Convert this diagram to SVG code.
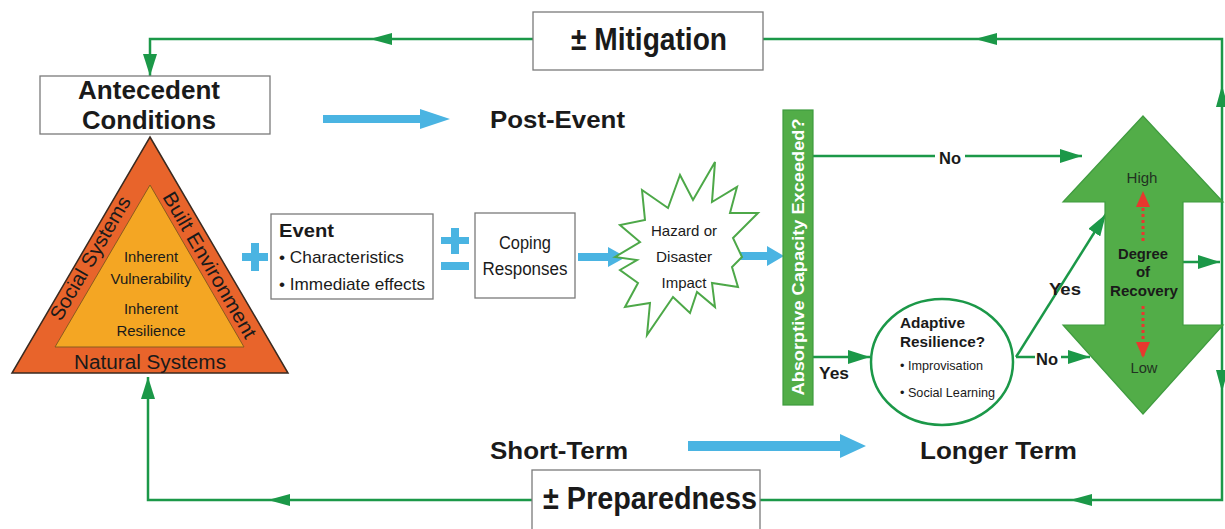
<svg xmlns="http://www.w3.org/2000/svg" width="1225" height="529" viewBox="0 0 1225 529">
  <style>
    .t { font-family: "Liberation Sans", Arial, sans-serif; fill: #1a1a1a; }
    .b { font-weight: bold; }
    .box { fill: #ffffff; stroke: #7a7a7a; stroke-width: 1.3; }
    .ln { fill: none; stroke: #1b9848; stroke-width: 2.5; }
    .hd { fill: #1b9848; }
    .blue { fill: #4ab4e2; }
    .green { fill: #52ad48; stroke: #3f9c3f; stroke-width: 1.2; }
  </style>
  <defs>
    <marker id="ah" markerUnits="userSpaceOnUse" markerWidth="24" markerHeight="14" refX="22" refY="7" orient="auto">
      <path d="M0,0 L22,7 L0,14 Z" fill="#1b9848"/>
    </marker>
    <marker id="rh" markerUnits="userSpaceOnUse" markerWidth="16" markerHeight="20" refX="14" refY="7" orient="auto">
      <path d="M0,0 L16,7 L0,14 Z" fill="#e8382e"/>
    </marker>
  </defs>

  <!-- feedback loops and decision connectors -->
  <g id="connectors">
    <path class="ln" d="M1222,262 V39 H150 V76" marker-end="url(#ah)"/>
    <path class="ln" d="M1222,262 V500 H148 V377" marker-end="url(#ah)"/>
    <!-- arrowheads along the loops -->
    <path class="hd" d="M975,39 L997,33 L997,45 Z"/>
    <path class="hd" d="M370,39 L392,33 L392,45 Z"/>
    <path class="hd" d="M1222,85 L1216,107 L1228,107 Z"/>
    <path class="hd" d="M1222,392 L1216,370 L1228,370 Z"/>
    <path class="hd" d="M1070,500 L1092,494 L1092,506 Z"/>
    <path class="hd" d="M268,500 L290,494 L290,506 Z"/>
    <!-- recovery outflow -->
    <path class="ln" d="M1183,262 H1220" marker-end="url(#ah)"/>
    <!-- absorptive capacity outcomes -->
    <path class="ln" d="M813,156 H1082" marker-end="url(#ah)"/>
    <path class="ln" d="M813,357 H870" marker-end="url(#ah)"/>
    <!-- adaptive resilience outcomes -->
    <path class="ln" d="M1016,357 L1106,214" marker-end="url(#ah)"/>
    <path class="ln" d="M1016,357 H1090" marker-end="url(#ah)"/>
    <rect x="935" y="147" width="30" height="20" fill="#ffffff"/>
    <text class="t b" x="950" y="164" font-size="17" text-anchor="middle" textLength="22" lengthAdjust="spacingAndGlyphs">No</text>
    <text class="t b" x="834" y="379" font-size="17" text-anchor="middle" textLength="30" lengthAdjust="spacingAndGlyphs">Yes</text>
    <rect x="1035" y="348" width="26" height="20" fill="#ffffff"/>
    <text class="t b" x="1047" y="365" font-size="17" text-anchor="middle" textLength="22" lengthAdjust="spacingAndGlyphs">No</text>
    <text class="t b" x="1065" y="295" font-size="17" text-anchor="middle" textLength="32" lengthAdjust="spacingAndGlyphs">Yes</text>
    <!-- blue flow arrows -->
    <path class="blue" d="M323,115 H420 V109 L450,119 L420,129 V123 H323 Z"/>
    <path class="blue" d="M688,441 H840 V434 L866,446 L840,458 V451 H688 Z"/>
    <path class="blue" d="M578,253 H608 V247 L626,257 L608,267 V261 H578 Z"/>
    <path class="blue" d="M738,252 H767 V246 L784,256 L767,266 V260 H738 Z"/>
    <!-- plus and plus-minus signs -->
    <path class="blue" d="M251,243 H259 V253 H268 V261 H259 V271 H251 V261 H242 V253 H251 Z"/>
    <path class="blue" d="M451,228 H459 V237 H469 V244 H459 V254 H451 V244 H441 V237 H451 Z"/>
    <rect class="blue" x="441" y="262" width="28" height="8"/>
  </g>

  <g id="mitigation">
    <rect class="box" x="533" y="12" width="230" height="58"/>
    <text class="t b" x="649" y="50" font-size="31" text-anchor="middle" textLength="156" lengthAdjust="spacingAndGlyphs">± Mitigation</text>
  </g>

  <g id="preparedness">
    <rect class="box" x="532" y="470" width="228" height="70"/>
    <text class="t b" x="650" y="509" font-size="31" text-anchor="middle" textLength="214" lengthAdjust="spacingAndGlyphs">± Preparedness</text>
  </g>

  <g id="antecedent">
    <rect class="box" x="40" y="76" width="230" height="58"/>
    <text class="t b" x="149" y="99" font-size="25" text-anchor="middle" textLength="142" lengthAdjust="spacingAndGlyphs">Antecedent</text>
    <text class="t b" x="149" y="129" font-size="25" text-anchor="middle" textLength="134" lengthAdjust="spacingAndGlyphs">Conditions</text>
  </g>

  <g id="systems-triangle">
    <path d="M150,137 L288,373 L12,373 Z" fill="#e8642b" stroke="#3a2a20" stroke-width="1.5"/>
    <path d="M150,185 L244,347 L55,347 Z" fill="#f4a623" stroke="#8a5a20" stroke-width="1"/>
    <text class="t" font-size="20" text-anchor="middle" transform="translate(90,258) rotate(-59.7)" y="7" textLength="140" lengthAdjust="spacingAndGlyphs">Social Systems</text>
    <text class="t" font-size="20" text-anchor="middle" transform="translate(210,265) rotate(59.7)" y="7" textLength="166" lengthAdjust="spacingAndGlyphs">Built Environment</text>
    <text class="t" x="150" y="369" font-size="20" text-anchor="middle" textLength="152" lengthAdjust="spacingAndGlyphs">Natural Systems</text>
    <text class="t" x="151" y="262" font-size="15" text-anchor="middle" textLength="54" lengthAdjust="spacingAndGlyphs">Inherent</text>
    <text class="t" x="151" y="284" font-size="15" text-anchor="middle" textLength="81" lengthAdjust="spacingAndGlyphs">Vulnerability</text>
    <text class="t" x="151" y="314" font-size="15" text-anchor="middle" textLength="54" lengthAdjust="spacingAndGlyphs">Inherent</text>
    <text class="t" x="151" y="336" font-size="15" text-anchor="middle" textLength="69" lengthAdjust="spacingAndGlyphs">Resilience</text>
  </g>

  <g id="event">
    <rect class="box" x="271" y="214" width="162" height="85"/>
    <text class="t b" x="279" y="237" font-size="18" textLength="55" lengthAdjust="spacingAndGlyphs">Event</text>
    <text class="t" x="279" y="263" font-size="17" textLength="125" lengthAdjust="spacingAndGlyphs">• Characteristics</text>
    <text class="t" x="279" y="290" font-size="17" textLength="146" lengthAdjust="spacingAndGlyphs">• Immediate effects</text>
  </g>

  <g id="coping">
    <rect class="box" x="475" y="213" width="100" height="85"/>
    <text class="t" x="525" y="249" font-size="18" text-anchor="middle" textLength="52" lengthAdjust="spacingAndGlyphs">Coping</text>
    <text class="t" x="525" y="275" font-size="18" text-anchor="middle" textLength="85" lengthAdjust="spacingAndGlyphs">Responses</text>
  </g>

  <g id="impact">
    <polygon fill="#ffffff" stroke="#4da848" stroke-width="2" points="615,257 640,242 620,225 645,220 642,190 668,208 680,175 693,200 715,162 712,202 737,187 730,213 758,213 733,238 742,257 732,267 738,287 712,283 715,307 697,292 690,313 673,297 647,335 650,303 625,307 638,283 620,270 637,260"/>
    <text class="t" x="684" y="236" font-size="15" text-anchor="middle" textLength="66" lengthAdjust="spacingAndGlyphs">Hazard or</text>
    <text class="t" x="684" y="262" font-size="15" text-anchor="middle" textLength="56" lengthAdjust="spacingAndGlyphs">Disaster</text>
    <text class="t" x="684" y="288" font-size="15" text-anchor="middle" textLength="45" lengthAdjust="spacingAndGlyphs">Impact</text>
  </g>

  <g id="absorptive">
    <rect class="green" x="783" y="110" width="30" height="295"/>
    <text class="t b" font-size="17" text-anchor="middle" style="fill:#ffffff" transform="translate(798,257) rotate(-90)" y="6" textLength="277" lengthAdjust="spacingAndGlyphs">Absorptive Capacity Exceeded?</text>
  </g>

  <g id="adaptive">
    <ellipse cx="942" cy="362" rx="71" ry="63" fill="#ffffff" stroke="#1b9848" stroke-width="2.5"/>
    <text class="t b" x="900" y="328" font-size="15" textLength="65" lengthAdjust="spacingAndGlyphs">Adaptive</text>
    <text class="t b" x="900" y="347" font-size="15" textLength="85" lengthAdjust="spacingAndGlyphs">Resilience?</text>
    <text class="t" x="900" y="370" font-size="13" textLength="83" lengthAdjust="spacingAndGlyphs">• Improvisation</text>
    <text class="t" x="900" y="397" font-size="13" textLength="95" lengthAdjust="spacingAndGlyphs">• Social Learning</text>
  </g>

  <g id="recovery">
    <path class="green" d="M1143,116 L1223,202 L1183,202 L1183,325 L1223,325 L1143,414 L1063,325 L1105,325 L1105,202 L1063,202 Z"/>
    <text class="t" x="1142" y="183" font-size="15" text-anchor="middle" style="fill:#223322" textLength="31" lengthAdjust="spacingAndGlyphs">High</text>
    <text class="t" x="1144" y="373" font-size="15" text-anchor="middle" style="fill:#223322" textLength="27" lengthAdjust="spacingAndGlyphs">Low</text>
    <text class="t b" x="1143" y="259" font-size="15" text-anchor="middle" textLength="50" lengthAdjust="spacingAndGlyphs">Degree</text>
    <text class="t b" x="1143" y="277" font-size="15" text-anchor="middle">of</text>
    <text class="t b" x="1144" y="296" font-size="15" text-anchor="middle" textLength="68" lengthAdjust="spacingAndGlyphs">Recovery</text>
    <path d="M1143,241 V193" stroke="#e8382e" stroke-width="3" stroke-dasharray="3,3" fill="none" marker-end="url(#rh)"/>
    <path d="M1143,306 V356" stroke="#e8382e" stroke-width="3" stroke-dasharray="3,3" fill="none" marker-end="url(#rh)"/>
  </g>

  <g id="phase-labels">
    <text class="t b" x="490" y="128" font-size="24" textLength="135" lengthAdjust="spacingAndGlyphs">Post-Event</text>
    <text class="t b" x="490" y="459" font-size="24" textLength="138" lengthAdjust="spacingAndGlyphs">Short-Term</text>
    <text class="t b" x="920" y="459" font-size="24" textLength="157" lengthAdjust="spacingAndGlyphs">Longer Term</text>
  </g>
</svg>
